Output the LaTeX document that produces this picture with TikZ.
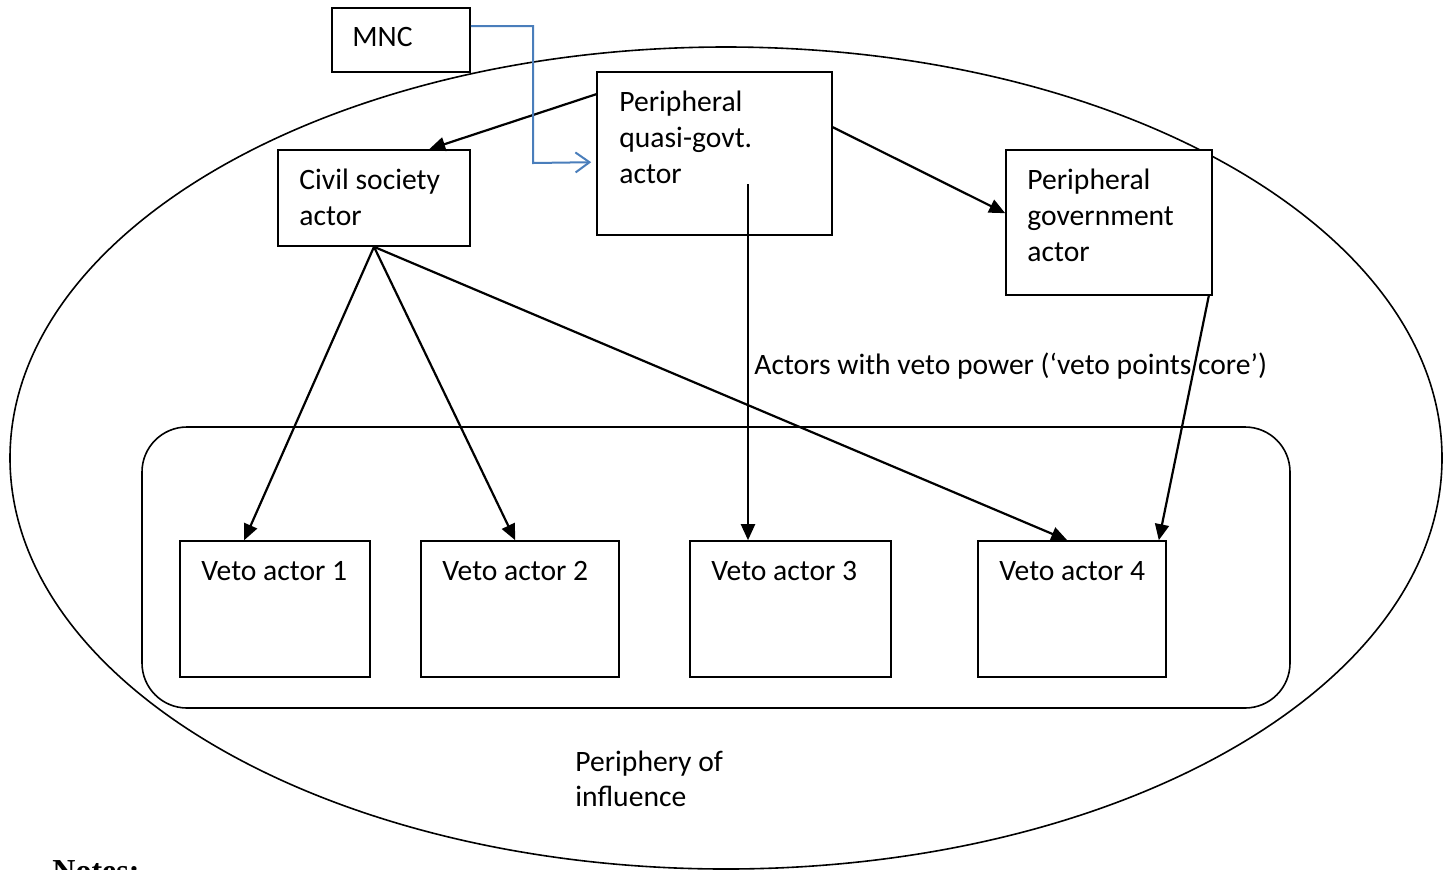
\documentclass[tikz,border=0pt]{standalone}
\usepackage{fontspec}
\setmainfont{Carlito}
\newfontfamily\notesfont{Liberation Serif}
\usetikzlibrary{fit,calc,arrows.meta}
\begin{document}
\begin{tikzpicture}[x=0.5pt,y=-0.5pt,
  box/.style={draw,fill=white,line width=0.8pt,inner sep=0pt},
  txt/.style={anchor=base west,inner sep=0pt,align=left,font=\fontsize{14.8}{18}\selectfont},
  arr/.style={line width=1.1pt,-{Triangle[length=8pt,width=7pt]}},
  barr/.style={draw=mnblue,line width=1pt,-{Straight Barb[length=7pt,width=10pt,line width=1pt]}}]
\definecolor{mnblue}{HTML}{4A7EBB}
\useasboundingbox (0,0) rectangle (1450,869);
% periphery ellipse
\draw[line width=0.8pt] (726,458) ellipse [x radius=716, y radius=411];
% core
\draw[line width=0.8pt,rounded corners=22.5pt] (142,427) rectangle (1290,708);
% boxes
\node[box,fit={(332,8)(470,72)}] (mnc) {};
\node[box,fit={(597,72)(832,235)}] (quasi) {};
\node[box,fit={(278,150)(470,246)}] (civil) {};
\node[box,fit={(1006,150)(1212,295)}] (pgov) {};
\node[box,fit={(180,541)(370,677)}] (va1) {};
\node[box,fit={(421,541)(619,677)}] (va2) {};
\node[box,fit={(690,541)(891,677)}] (va3) {};
\node[box,fit={(978,541)(1166,677)}] (va4) {};
% texts
\node[txt] (tmnc) at (352,46) {MNC};
\node[txt] (tquasi) at (619,111) {Peripheral};
\node[txt] (tquasi2) at (619,147) {quasi-govt.};
\node[txt] (tquasi3) at (619,183) {actor};
\node[txt] (tcivil) at (299,189) {Civil society};
\node[txt] (tcivil2) at (299,225) {actor};
\node[txt] (tpgov) at (1027,189) {Peripheral};
\node[txt] (tpgov2) at (1027,225) {government};
\node[txt] (tpgov3) at (1027,261) {actor};
\node[txt] (tva1) at (201,580) {Veto actor 1};
\node[txt] (tva2) at (442,580) {Veto actor 2};
\node[txt] (tva3) at (711,580) {Veto actor 3};
\node[txt] (tva4) at (999,580) {Veto actor 4};
\node[txt] (tcore) at (754,374) {Actors with veto power (‘veto points core’)};
\node[txt] (tper) at (575,771) {Periphery of};
\node[txt] (tper2) at (575,806) {influence};
\node[anchor=base west,inner sep=0pt,font=\notesfont\bfseries\fontsize{16}{19}\selectfont] (notes) at (52,881) {Notes:};
% connectors
\coordinate (jog) at (533,163);
\coordinate (q3) at (748,184);
\draw[arr] ($(quasi.north west)+(0,23)$) -- ($(civil.north west)+(152,0)$);
\draw[barr] ($(mnc.north east)+(0,19)$) -| (jog) -- ($(quasi.north west)+(-5,91)$);
\draw[arr] ($(quasi.north east)+(0,56)$) -- ($(pgov.north west)+(0,64)$);
\draw[arr] (civil.south) -- ($(va1.north west)+(65,0)$);
\draw[arr] (civil.south) -- ($(va2.north west)+(95,0)$);
\draw[arr] (civil.south) -- ($(va4.north west)+(90,0)$);
\draw[arr] (q3) -- (q3 |- va3.north);
\draw[arr] ($(pgov.south east)+(-4,0)$) -- ($(va4.north east)+(-8,0)$);
\end{tikzpicture}
\end{document}
